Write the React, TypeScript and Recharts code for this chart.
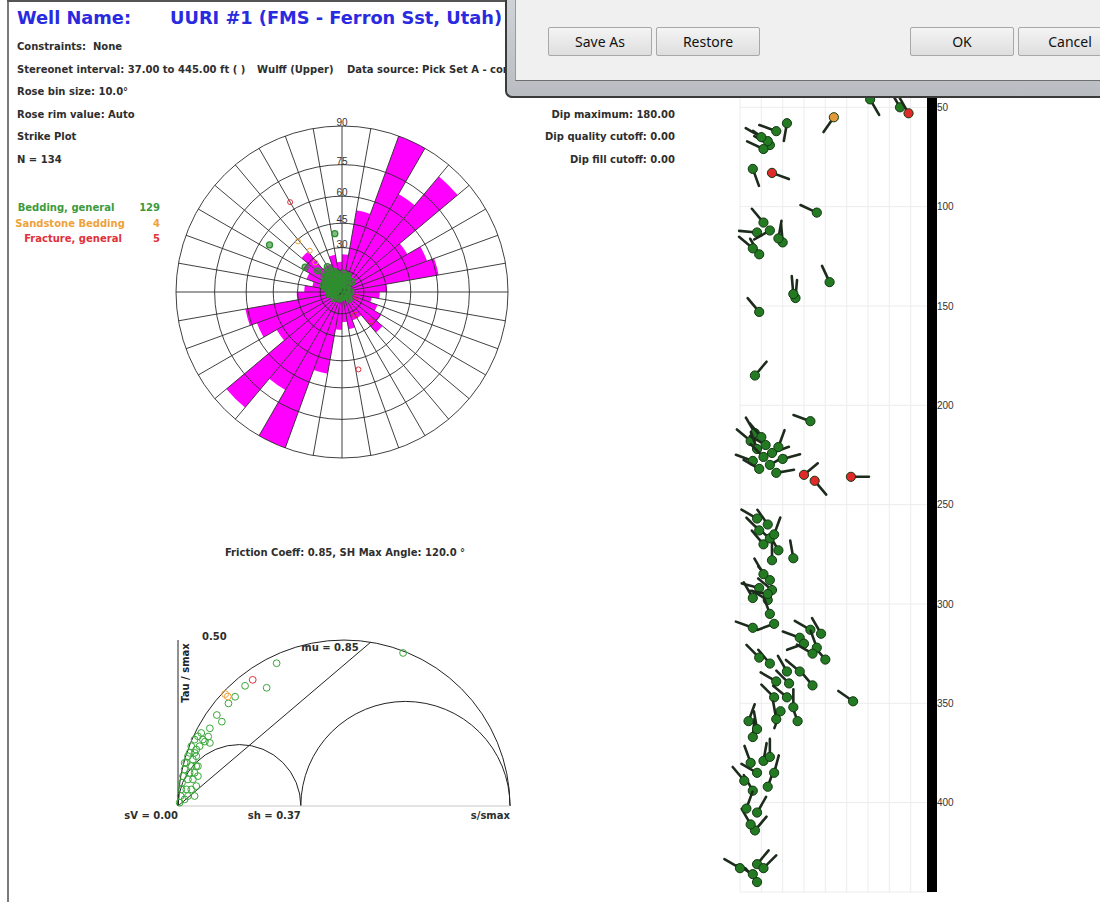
import React from "react";
import {
  RadialBarChart,
  RadialBar,
  PolarAngleAxis,
  PolarRadiusAxis,
  PolarGrid,
  ScatterChart,
  Scatter,
  XAxis,
  YAxis,
  CartesianGrid,
  ReferenceArea,
  ReferenceLine,
  ReferenceDot,
} from "recharts";

// ---- rose (strike, 10 deg bins, 0-180 mirrored) ----
const ROSE_BIN_START = [0, 10, 20, 30, 40, 50, 60, 70, 80, 90, 100, 110, 120, 130, 140, 150, 160, 170];
const ROSE_COUNTS = [4, 5, 11, 22, 15, 20, 10, 12, 13, 6, 5, 4, 5, 6, 7, 4, 4, 5];
const RING_DIPS = [15, 30, 45, 60, 75, 90];
const RING_LABEL_DIPS = [30, 45, 60, 75, 90];
const SPOKES = Array.from({ length: 36 }, (_, i) => i * 10);

// ---- stereonet poles (upper hemisphere): [dip, dip azimuth] ----
const POLES_BEDDING = [
  [3, 300], [4, 330], [5, 350], [6, 310], [7, 290], [8, 320], [9, 340], [10, 300], [11, 330], [12, 315],
  [13, 345], [14, 305], [15, 325], [16, 335], [7, 10], [9, 25], [11, 15], [13, 5], [6, 40], [4, 60],
  [5, 200], [6, 250], [8, 270], [10, 280], [12, 285], [14, 290], [5, 120], [3, 150], [8, 355], [10, 0],
  [12, 350], [9, 310], [11, 300], [13, 320], [6, 330], [8, 300], [2, 0], [4, 270], [7, 230], [9, 260],
  [16, 310], [17, 320], [15, 340], [12, 20], [10, 45], [6, 90], [4, 180], [7, 135],
  [55, 303], [39, 353], [30, 304], [22, 311], [20, 330],
];
const POLES_SANDSTONE = [[44, 319], [35, 322], [27, 318]];
const POLES_FRACTURE = [[64, 330], [51, 168], [11, 108], [28, 135], [18, 150]];

// ---- Mohr diagram: [s/smax, tau/smax] ----
const MOHR_STRESSES = [0, 0.37, 1];
const MOHR_AXIS_LABELS = ["sV = 0.00", "sh = 0.37", "s/smax"];
const FRICTION_MU = 0.85;
const MOHR_BEDDING = [
  [0.297, 0.43], [0.202, 0.362], [0.267, 0.356], [0.172, 0.329], [0.152, 0.309], [0.117, 0.274],
  [0.132, 0.254], [0.096, 0.234], [0.091, 0.209], [0.081, 0.194], [0.096, 0.19], [0.678, 0.461],
  [0.005, 0.01], [0.008, 0.03], [0.01, 0.05], [0.012, 0.07], [0.015, 0.09], [0.02, 0.11], [0.025, 0.13],
  [0.03, 0.15], [0.035, 0.16], [0.04, 0.18], [0.05, 0.2], [0.06, 0.21], [0.07, 0.22], [0.02, 0.02],
  [0.025, 0.05], [0.03, 0.08], [0.035, 0.1], [0.04, 0.12], [0.045, 0.14], [0.05, 0.16], [0.055, 0.17],
  [0.03, 0.03], [0.04, 0.05], [0.045, 0.08], [0.05, 0.1], [0.055, 0.12], [0.05, 0.03], [0.055, 0.06],
  [0.06, 0.09], [0.06, 0.12], [0.055, 0.15], [0.02, 0.13], [0.065, 0.18], [0.075, 0.2],
];
const MOHR_SANDSTONE = [[0.142, 0.337], [0.15, 0.33]];
const MOHR_FRACTURE = [[0.225, 0.38]];

// ---- tadpoles: [depth ft, dip, azimuth] ----
const DEPTH_TICKS = [50, 100, 150, 200, 250, 300, 350, 400];
const DIP_GRID = [0, 10, 20, 30, 40, 50, 60, 70, 80, 90];
const TAD_BEDDING = [
  [46, 61, 150], [50, 75, 330], [58, 22, 190], [62, 17, 290], [69, 14, 300], [67, 13, 305], [65, 10, 300],
  [71, 11, 295], [81, 6, 160], [103, 36, 295], [108, 11, 320], [124, 9, 330], [118, 20, 355], [116, 18, 10],
  [113, 8, 275], [112, 14, 240], [121, 6, 310], [138, 42, 335], [146, 26, 5], [144, 25, 355], [153, 9, 320],
  [185, 7, 40], [208, 33, 290], [214, 7, 330], [216, 10, 320], [218, 5, 310], [220, 12, 300], [222, 8, 340],
  [224, 15, 70], [226, 11, 315], [228, 6, 290], [230, 14, 60], [232, 9, 300], [234, 17, 80], [221, 18, 20],
  [227, 20, 75], [278, 15, 0], [277, 25, 350], [273, 18, 330], [270, 11, 320], [267, 14, 310], [263, 9, 315],
  [265, 16, 20], [260, 13, 325], [257, 8, 300], [288, 14, 320], [285, 11, 330], [293, 15, 310], [298, 13, 300],
  [305, 14, 340], [310, 16, 250], [292, 9, 285], [297, 6, 330], [295, 13, 280], [312, 6, 290], [315, 38, 330],
  [328, 40, 320], [313, 33, 300], [317, 28, 290], [322, 36, 340], [320, 30, 250], [325, 34, 300], [340, 23, 315],
  [341, 34, 320], [334, 28, 310], [334, 22, 330], [330, 14, 320], [327, 9, 315], [339, 17, 300], [359, 27, 340],
  [354, 19, 200], [352, 25, 0], [347, 16, 315], [347, 22, 310], [358, 17, 350], [349, 53, 305], [367, 6, 5],
  [363, 8, 350], [359, 4, 20], [394, 6, 330], [392, 13, 20], [385, 16, 15], [385, 8, 300], [380, 5, 340],
  [379, 11, 10], [377, 14, 0], [389, 2, 320], [414, 7, 40], [411, 5, 330], [405, 8, 30], [403, 3, 20],
  [440, 8, 320], [436, 6, 300], [431, 8, 40], [433, 0, 300], [433, 11, 45],
];
const TAD_SANDSTONE = [[55, 44, 215]];
const TAD_FRACTURE = [[53, 79, 330], [83, 15, 110], [235, 30, 50], [238, 35, 140], [236, 52, 90]];

const FONT = "'DejaVu Sans', Verdana, sans-serif";
const GREEN = "#2f8f2f";
const ORANGE = "#eea23c";
const RED = "#e0303a";

const R = 166;
const PAD = 20;
const ROSE_CX = 342;
const ROSE_CY = 292;
const wulff = (dip: number) => Math.tan((dip * Math.PI) / 360);
const toRad = (d: number) => (d * Math.PI) / 180;

const roseData = [...ROSE_COUNTS, ...ROSE_COUNTS].map((c, i) => ({
  bin: i < 18 ? ROSE_BIN_START[i] : ROSE_BIN_START[i - 18] + 180,
  count: c,
}));
const rim = Math.max(...ROSE_COUNTS);

const poleRows = (rows: number[][]) =>
  rows.map(([dip, az]) => ({ x: wulff(dip) * Math.sin(toRad(az)), y: wulff(dip) * Math.cos(toRad(az)) }));
const mohrRows = (rows: number[][]) => rows.map(([s, tau]) => ({ s, tau }));
const tadRows = (rows: number[][]) => rows.map(([depth, dip, azi]) => ({ depth, dip, azi }));

function Txt({ x, y, children, anchor = "start", style }: any) {
  const tx = anchor === "start" ? "0" : anchor === "middle" ? "-50%" : "-100%";
  return (
    <div
      style={{
        position: "absolute",
        left: x,
        top: y,
        transform: `translate(${tx}, -50%)`,
        whiteSpace: "nowrap",
        fontFamily: FONT,
        fontSize: 10,
        fontWeight: 700,
        color: "#2e2e2e",
        lineHeight: 1,
        ...style,
      }}
    >
      {children}
    </div>
  );
}

const openDot = (stroke: string, r = 3) => (p: any) =>
  <circle cx={p.cx} cy={p.cy} r={r} fill="none" stroke={stroke} strokeWidth={1} />;

const poleDot = (color: string) => (p: any) =>
  <circle cx={p.cx} cy={p.cy} r={3} fill={color} fillOpacity={0.6} stroke={color} strokeWidth={1.3} />;

const tadpole = (fill: string) => (p: any) => {
  const { cx, cy, payload } = p;
  const a = toRad(payload.azi);
  const L = 18;
  return (
    <g>
      <line x1={cx} y1={cy} x2={cx + L * Math.sin(a)} y2={cy - L * Math.cos(a)} stroke="#1d2b1d" strokeWidth={2.6} strokeLinecap="round" />
      <circle cx={cx} cy={cy} r={4.6} fill={fill} stroke="#123812" strokeWidth={1} />
    </g>
  );
};

const arcShape = (p: any) => {
  const { x, y, width, height } = p;
  const bottom = y + height;
  return (
    <path d={`M${x},${bottom} A${width / 2},${height} 0 0 1 ${x + width},${bottom}`} fill="none" stroke="#222" strokeWidth={1} />
  );
};

function Rose() {
  const size = 2 * R + 2 * PAD;
  const box: React.CSSProperties = { position: "absolute", left: ROSE_CX - size / 2, top: ROSE_CY - size / 2, width: size, height: size };
  const common = {
    width: size,
    height: size,
    data: roseData,
    cx: size / 2,
    cy: size / 2,
    innerRadius: 0,
    outerRadius: R,
    startAngle: 90,
    endAngle: -270,
    margin: { top: 0, right: 0, bottom: 0, left: 0 },
  };
  return (
    <>
      <div style={box}>
        <RadialBarChart {...common} layout="centric" barCategoryGap="0%" barGap={0}>
          <PolarAngleAxis type="category" dataKey="bin" tick={false} axisLine={false} tickLine={false} />
          <PolarRadiusAxis type="number" domain={[0, rim]} tick={false} axisLine={false} />
          <RadialBar dataKey="count" fill="#ff00ff" isAnimationActive={false} />
        </RadialBarChart>
      </div>
      <div style={box}>
        <RadialBarChart {...common} layout="centric">
          <PolarGrid gridType="circle" polarAngles={SPOKES} polarRadius={RING_DIPS.map((d) => R * wulff(d))} stroke="#2b2b2b" strokeWidth={0.9} />
          <PolarAngleAxis type="category" dataKey="bin" tick={false} axisLine={false} tickLine={false} />
        </RadialBarChart>
      </div>
      <div style={box}>
        <ScatterChart width={size} height={size} margin={{ top: PAD, right: PAD, bottom: PAD, left: PAD }}>
          <XAxis type="number" dataKey="x" domain={[-1, 1]} hide />
          <YAxis type="number" dataKey="y" domain={[-1, 1]} hide />
          {RING_LABEL_DIPS.map((d) => (
            <ReferenceDot
              key={d}
              x={0}
              y={wulff(d)}
              r={0}
              fill="none"
              stroke="none"
              ifOverflow="visible"
              label={{ value: String(d), position: "top", offset: 0, fontSize: 10, fill: "#333", fontFamily: "'Liberation Sans', Arial, sans-serif" }}
            />
          ))}
          <Scatter data={poleRows(POLES_BEDDING)} shape={poleDot(GREEN)} isAnimationActive={false} />
          <Scatter data={poleRows(POLES_SANDSTONE)} shape={openDot(ORANGE, 2.5)} isAnimationActive={false} />
          <Scatter data={poleRows(POLES_FRACTURE)} shape={openDot(RED, 2.5)} isAnimationActive={false} />
        </ScatterChart>
      </div>
    </>
  );
}

function Mohr() {
  const sEnd = 1 / (1 + FRICTION_MU * FRICTION_MU);
  const [sV, sh, SH] = MOHR_STRESSES;
  const circles = [[sV, sh], [sh, SH], [sV, SH]];
  return (
    <div style={{ position: "absolute", left: 100, top: 600 }}>
      <ScatterChart width={450} height={240} margin={{ top: 40, right: 40, bottom: 14, left: 48 }}>
        <XAxis
          type="number"
          dataKey="s"
          domain={[0, 1]}
          ticks={MOHR_STRESSES}
          height={20}
          axisLine={{ stroke: "#c8c8c8" }}
          tickLine={false}
          tickSize={0}
          tickMargin={0}
          tick={(t: any) => (
            <text x={t.x} y={t.y + 12.5} textAnchor="end" fontSize={10} fontWeight={700} fontFamily={FONT} fill="#2e2e2e">
              {MOHR_AXIS_LABELS[MOHR_STRESSES.indexOf(t.payload.value)]}
            </text>
          )}
        />
        <YAxis
          type="number"
          dataKey="tau"
          domain={[0, 0.5]}
          ticks={[0.5]}
          width={30}
          axisLine={{ stroke: "#222" }}
          tickLine={false}
          tickSize={0}
          tickMargin={0}
          tick={(t: any) => (
            <text x={t.x + 24} y={t.y} fontSize={10} fontWeight={700} fontFamily={FONT} fill="#2e2e2e">
              {t.payload.value.toFixed(2)}
            </text>
          )}
        />
        {circles.map(([a, b], i) => (
          <ReferenceArea key={i} x1={a} x2={b} y1={0} y2={(b - a) / 2} ifOverflow="visible" shape={arcShape} />
        ))}
        <ReferenceLine segment={[{ x: 0, y: 0 }, { x: sEnd, y: FRICTION_MU * sEnd }]} stroke="#222" strokeWidth={1} ifOverflow="visible" />
        <Scatter data={mohrRows(MOHR_BEDDING)} shape={openDot("#38a838", 3.4)} isAnimationActive={false} />
        <Scatter data={mohrRows(MOHR_SANDSTONE)} shape={openDot(ORANGE, 3.4)} isAnimationActive={false} />
        <Scatter data={mohrRows(MOHR_FRACTURE)} shape={openDot(RED, 3.4)} isAnimationActive={false} />
      </ScatterChart>
    </div>
  );
}

function Tadpoles() {
  return (
    <div style={{ position: "absolute", left: 700, top: 0 }}>
      <ScatterChart width={300} height={902} margin={{ top: 8, right: 28, bottom: 10, left: 40 }}>
        <CartesianGrid stroke="#ececec" />
        <XAxis type="number" dataKey="dip" domain={[0, 90]} ticks={DIP_GRID} hide />
        <YAxis
          type="number"
          dataKey="depth"
          domain={[0, 445]}
          reversed
          orientation="right"
          ticks={DEPTH_TICKS}
          width={40}
          axisLine={{ stroke: "#000", strokeWidth: 10 }}
          tickLine={false}
          tickSize={0}
          tickMargin={5}
          tick={{ fontSize: 10, fill: "#333", fontFamily: "'Liberation Sans', Arial, sans-serif" }}
        />
        <Scatter data={tadRows(TAD_BEDDING)} shape={tadpole("#237a23")} isAnimationActive={false} />
        <Scatter data={tadRows(TAD_SANDSTONE)} shape={tadpole("#e19a3a")} isAnimationActive={false} />
        <Scatter data={tadRows(TAD_FRACTURE)} shape={tadpole("#e02a2a")} isAnimationActive={false} />
      </ScatterChart>
    </div>
  );
}

function Button({ x, w, label }: any) {
  return (
    <div
      style={{
        position: "absolute",
        left: x,
        top: 27,
        width: w,
        height: 29,
        boxSizing: "border-box",
        border: "1px solid #a8a8a8",
        borderRadius: 2,
        background: "linear-gradient(#f4f4f4, #dedede)",
        fontFamily: "'Noto Sans', 'DejaVu Sans', sans-serif",
        fontSize: 14,
        color: "#111",
        display: "flex",
        alignItems: "center",
        justifyContent: "center",
      }}
    >
      {label}
    </div>
  );
}

export default function App() {
  return (
    <div style={{ position: "absolute", left: 0, top: 0, width: 1100, height: 902, background: "#fff", overflow: "hidden" }}>
      <div style={{ position: "absolute", left: 7, top: 0, width: 2, height: 902, background: "#7a7a7a" }} />
      <div style={{ position: "absolute", left: 7, top: 0, width: 500, height: 2, background: "#555" }} />

      <Txt x={17} y={18} style={{ fontSize: 17.8, color: "#2a2ae0" }}>Well Name:</Txt>
      <Txt x={170} y={18} style={{ fontSize: 17.8, color: "#2a2ae0" }}>UURI #1 (FMS - Ferron Sst, Utah)</Txt>

      <Txt x={17} y={47}>Constraints:&nbsp; None</Txt>
      <Txt x={17} y={70}>Stereonet interval: 37.00 to 445.00 ft ( )</Txt>
      <Txt x={257} y={70}>Wulff (Upper)</Txt>
      <Txt x={347} y={70}>Data source: Pick Set A - core</Txt>
      <Txt x={17} y={92}>Rose bin size: 10.0°</Txt>
      <Txt x={17} y={115}>Rose rim value: Auto</Txt>
      <Txt x={17} y={137}>Strike Plot</Txt>
      <Txt x={17} y={160}>N = 134</Txt>

      <Txt x={66} y={208} anchor="middle" style={{ color: "#3c9a3c" }}>Bedding, general</Txt>
      <Txt x={160} y={208} anchor="end" style={{ color: "#3c9a3c" }}>129</Txt>
      <Txt x={70} y={224} anchor="middle" style={{ color: ORANGE }}>Sandstone Bedding</Txt>
      <Txt x={160} y={224} anchor="end" style={{ color: ORANGE }}>4</Txt>
      <Txt x={73} y={239} anchor="middle" style={{ color: RED }}>Fracture, general</Txt>
      <Txt x={160} y={239} anchor="end" style={{ color: RED }}>5</Txt>

      <Txt x={675} y={115} anchor="end">Dip maximum: 180.00</Txt>
      <Txt x={675} y={137} anchor="end">Dip quality cutoff: 0.00</Txt>
      <Txt x={675} y={160} anchor="end">Dip fill cutoff: 0.00</Txt>

      <Rose />

      <Txt x={345} y={553} anchor="middle">Friction Coeff: 0.85, SH Max Angle: 120.0 °</Txt>
      <Mohr />
      <Txt x={330} y={648} anchor="middle">mu = 0.85</Txt>
      <div
        style={{
          position: "absolute",
          left: 186,
          top: 673,
          transform: "translate(-50%, -50%) rotate(-90deg)",
          whiteSpace: "nowrap",
          fontFamily: FONT,
          fontSize: 10,
          fontWeight: 700,
          color: "#222",
          lineHeight: 1,
        }}
      >
        Tau / smax
      </div>

      <Tadpoles />

      {/* dialog overlapping top right */}
      <div
        style={{
          position: "absolute",
          left: 505,
          top: 0,
          width: 600,
          height: 98,
          boxSizing: "border-box",
          background: "linear-gradient(#cfd2d6, #b9bcc0)",
          borderLeft: "2px solid #3a3a3a",
          borderBottom: "2px solid #3a3a3a",
          borderBottomLeftRadius: 7,
          zIndex: 10,
        }}
      >
        <div
          style={{
            position: "absolute",
            left: 8,
            top: 0,
            right: 0,
            height: 80,
            background: "#f0f0f0",
            borderLeft: "1px solid #9a9a9a",
            borderBottom: "1px solid #6e6e6e",
          }}
        />
      </div>
      <div style={{ position: "absolute", left: 0, top: 0, zIndex: 11 }}>
        <Button x={548} w={104} label="Save As" />
        <Button x={656} w={104} label="Restore" />
        <Button x={910} w={104} label="OK" />
        <Button x={1018} w={104} label="Cancel" />
      </div>
    </div>
  );
}
